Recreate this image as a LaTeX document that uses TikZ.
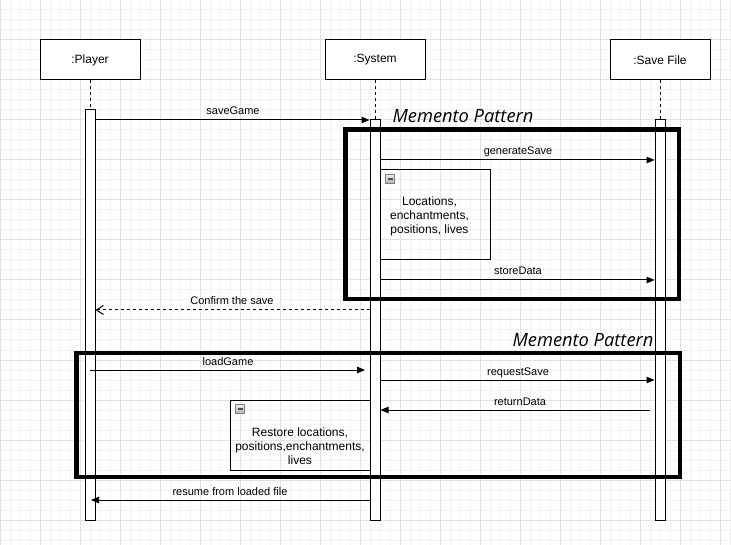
\documentclass[tikz,border=0pt]{standalone}
\usepackage{fontspec}
\setmainfont{Liberation Sans}
\newfontfamily\memfont{Open Sans}
\usetikzlibrary{arrows.meta}
\definecolor{minorgrid}{HTML}{F3F3F3}
\definecolor{majorgrid}{HTML}{E2E2E2}
\begin{document}
\begin{tikzpicture}[x=1pt,y=-1pt,
  lifebox/.style={draw, line width=1pt, fill=white, minimum width=100pt, minimum height=40pt, inner sep=0pt, font=\fontsize{12}{14}\selectfont},
  actbox/.style={draw, line width=1pt, fill=white, minimum width=10pt, inner sep=0pt},
  lifeline/.style={line width=1pt, dash pattern=on 3pt off 3pt},
  msg/.style={line width=1pt, -{Triangle[length=8pt,width=6.5pt]}},
  reply/.style={line width=1pt, dash pattern=on 3pt off 3pt, -{Straight Barb[length=7pt,width=9pt]}},
  msglabel/.style={anchor=base, inner sep=0pt, font=\fontsize{11}{13}\selectfont},
  notebox/.style={draw, line width=1pt, inner sep=0pt},
  notetext/.style={align=center, inner sep=0pt, font=\fontsize{12}{14}\selectfont},
  minusicon/.style={draw=black!50, top color=black!8, bottom color=black!30, line width=0.8pt, minimum size=8.5pt, inner sep=0pt,
     path picture={\draw[line width=1.2pt, black!70] ([xshift=-2.5pt]path picture bounding box.center) -- ([xshift=2.5pt]path picture bounding box.center);}},
  memframe/.style={draw, line width=4.5pt, inner sep=0pt},
  memtitle/.style={anchor=base, inner sep=0pt, font=\memfont\itshape\fontsize{18.3}{21}\selectfont}
]
\useasboundingbox (0,0) rectangle (731,545);
\fill[white] (0,0) rectangle (731,545);
% grid
\foreach \x in {0,10,...,730} \draw[minorgrid, line width=1pt] (\x,0) -- (\x,545);
\foreach \y in {0,10,...,540} \draw[minorgrid, line width=1pt] (0,\y) -- (731,\y);
\foreach \x in {0,40,...,720} \draw[majorgrid, line width=1pt] (\x,0) -- (\x,545);
\foreach \y in {0,40,...,520} \draw[majorgrid, line width=1pt] (0,\y) -- (731,\y);

% participants
\node[lifebox] (player) at (90,60) {:Player};
\node[lifebox] (system) at (375,60) {:System};
\node[lifebox] (save) at (660,60) {:Save File};

% activations
\node[actbox, minimum height=410pt] (pact) at (90,315) {};
\node[actbox, minimum height=400pt] (sact) at (375,320) {};
\node[actbox, minimum height=400pt] (vact) at (660,320) {};

% lifelines
\draw[lifeline] (player.south) -- (pact.north);
\draw[lifeline] (system.south) -- (sact.north);
\draw[lifeline] (save.south) -- (vact.north);

% notes
\node[notebox, minimum width=110pt, minimum height=90pt] (note1) at (435,215) {};
\node[minusicon] (icon1) at (390,179) {};
\node[notetext] (note1text) at (429.5,216) {Locations,\\enchantments,\\positions, lives};

\node[notebox, minimum width=140pt, minimum height=70pt] (note2) at (300,435) {};
\node[minusicon] (icon2) at (240,409) {};
\node[notetext] (note2text) at (300,446) {Restore locations,\\positions,enchantments,\\lives};

% free ends
\coordinate (lgstart) at (90,370);
\coordinate (lgend) at (365,370);
\coordinate (rdstart) at (650,410);
\coordinate (rsend) at (91,500);

% messages
\draw[msg] (pact.east |- 0,120) -- (sact.west |- 0,120);
\node[msglabel] (l1) at (233,115) {saveGame};
\draw[msg] (sact.east |- 0,160) -- (vact.west |- 0,160);
\node[msglabel] (l2) at (518,155) {generateSave};
\draw[msg] (sact.east |- 0,280) -- (vact.west |- 0,280);
\node[msglabel] (l3) at (518,275) {storeData};
\draw[reply] (sact.west |- 0,310) -- (pact.east |- 0,310);
\node[msglabel] (l4) at (232,305) {Confirm the save};
\draw[msg] (lgstart) -- (lgend);
\node[msglabel] (l5) at (228,365) {loadGame};
\draw[msg] (sact.east |- 0,380) -- (vact.west |- 0,380);
\node[msglabel] (l6) at (518,375) {requestSave};
\draw[msg] (rdstart) -- (sact.east |- rdstart);
\node[msglabel] (l7) at (520,405) {returnData};
\draw[msg] (sact.west |- 0,500) -- (rsend);
\node[msglabel] (l8) at (230,495) {resume from loaded file};

% memento frames
\node[memframe, minimum width=333.5pt, minimum height=169.5pt] (frame1) at (512.25,214.25) {};
\node[memtitle] (t1) at (463,122.3) {Memento Pattern};
\node[memframe, minimum width=603.5pt, minimum height=124pt] (frame2) at (378.25,415) {};
\node[memtitle] (t2) at (583,346.7) {Memento Pattern};
\end{tikzpicture}
\end{document}
